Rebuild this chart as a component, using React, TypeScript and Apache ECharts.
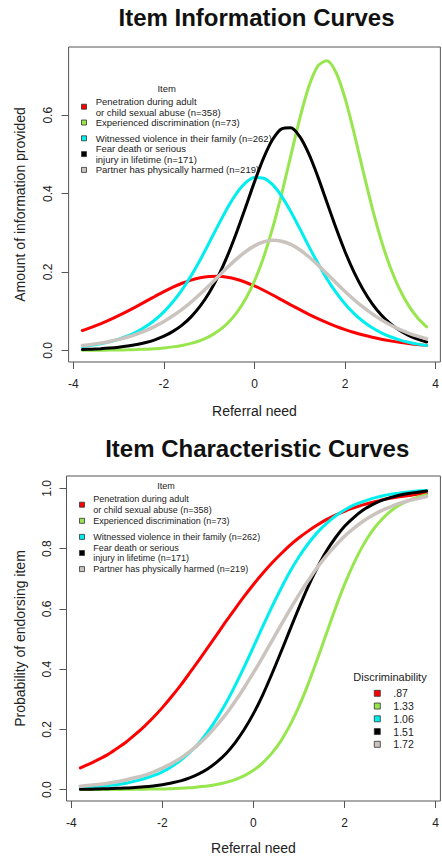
import React, { useEffect, useRef } from "react";
import * as echarts from "echarts";

// ---- data ----
const theta = [
  -3.8, -3.6, -3.4, -3.2, -3.0, -2.8, -2.6, -2.4, -2.2, -2.0, -1.8, -1.6, -1.4,
  -1.2, -1.0, -0.8, -0.6, -0.4, -0.2, 0.0, 0.2, 0.4, 0.6, 0.8, 1.0, 1.2, 1.4,
  1.6, 1.8, 2.0, 2.2, 2.4, 2.6, 2.8, 3.0, 3.2, 3.4, 3.6, 3.8,
];

const infoRed = [0.0509, 0.0589, 0.0679, 0.0778, 0.0887, 0.1003, 0.1125, 0.1251, 0.1377, 0.15, 0.1614, 0.1714, 0.1795, 0.1854, 0.1886, 0.1891, 0.1866, 0.1815, 0.174, 0.1645, 0.1535, 0.1415, 0.1289, 0.1163, 0.1039, 0.0921, 0.081, 0.0708, 0.0615, 0.0532, 0.0458, 0.0393, 0.0336, 0.0286, 0.0244, 0.0207, 0.0176, 0.0148, 0.0126];
const infoGreen = [0.0003, 0.0004, 0.0006, 0.0008, 0.0012, 0.0016, 0.0023, 0.0033, 0.0046, 0.0065, 0.0091, 0.0128, 0.018, 0.0252, 0.0353, 0.0494, 0.0687, 0.095, 0.1304, 0.1772, 0.2373, 0.3118, 0.3996, 0.4959, 0.5915, 0.6731, 0.7258, 0.7387, 0.7089, 0.643, 0.554, 0.4567, 0.363, 0.2802, 0.2115, 0.1569, 0.115, 0.0835, 0.0602];
const infoCyan = [0.01, 0.0131, 0.017, 0.022, 0.0285, 0.0368, 0.0474, 0.0608, 0.0776, 0.0985, 0.124, 0.1546, 0.1903, 0.2307, 0.2746, 0.3197, 0.3629, 0.4001, 0.4273, 0.441, 0.4394, 0.4228, 0.3932, 0.3545, 0.3106, 0.2655, 0.2222, 0.1826, 0.1479, 0.1184, 0.0939, 0.0739, 0.0578, 0.045, 0.0349, 0.027, 0.0209, 0.0161, 0.0124];
const infoBlack = [0.0025, 0.0033, 0.0045, 0.0061, 0.0082, 0.0111, 0.015, 0.0201, 0.0271, 0.0363, 0.0486, 0.0647, 0.0857, 0.1128, 0.1471, 0.1896, 0.2407, 0.2997, 0.3642, 0.43, 0.4905, 0.538, 0.5654, 0.5679, 0.5453, 0.5012, 0.4427, 0.3774, 0.3121, 0.2518, 0.1991, 0.1549, 0.119, 0.0906, 0.0684, 0.0514, 0.0385, 0.0287, 0.0214];
const infoGray = [0.0124, 0.0153, 0.0187, 0.023, 0.0281, 0.0343, 0.0418, 0.0508, 0.0614, 0.0738, 0.0883, 0.1048, 0.1234, 0.1439, 0.1659, 0.1887, 0.2114, 0.2328, 0.2518, 0.2668, 0.2768, 0.2808, 0.2786, 0.2704, 0.2568, 0.2389, 0.218, 0.1956, 0.1727, 0.1504, 0.1294, 0.1102, 0.0931, 0.078, 0.0649, 0.0538, 0.0444, 0.0364, 0.0299];

const iccRed = [0.072, 0.085, 0.1, 0.116, 0.136, 0.157, 0.182, 0.209, 0.239, 0.272, 0.308, 0.346, 0.387, 0.429, 0.472, 0.515, 0.559, 0.601, 0.642, 0.681, 0.717, 0.751, 0.782, 0.811, 0.836, 0.858, 0.878, 0.896, 0.911, 0.924, 0.935, 0.945, 0.953, 0.961, 0.967, 0.972, 0.976, 0.98, 0.983];
const iccGreen = [0.0, 0.0, 0.0, 0.0, 0.0, 0.001, 0.001, 0.001, 0.002, 0.002, 0.003, 0.004, 0.006, 0.009, 0.012, 0.017, 0.024, 0.033, 0.046, 0.064, 0.088, 0.12, 0.161, 0.213, 0.276, 0.35, 0.432, 0.517, 0.602, 0.681, 0.75, 0.809, 0.857, 0.894, 0.923, 0.944, 0.959, 0.971, 0.979];
const iccCyan = [0.006, 0.007, 0.01, 0.013, 0.016, 0.021, 0.028, 0.036, 0.046, 0.059, 0.076, 0.097, 0.123, 0.154, 0.192, 0.237, 0.288, 0.346, 0.408, 0.474, 0.54, 0.605, 0.666, 0.723, 0.773, 0.816, 0.853, 0.883, 0.908, 0.928, 0.944, 0.956, 0.966, 0.974, 0.98, 0.984, 0.988, 0.991, 0.993];
const iccBlack = [0.001, 0.001, 0.002, 0.003, 0.004, 0.005, 0.007, 0.009, 0.012, 0.016, 0.022, 0.029, 0.039, 0.052, 0.069, 0.092, 0.12, 0.156, 0.2, 0.252, 0.313, 0.382, 0.455, 0.53, 0.604, 0.674, 0.736, 0.791, 0.836, 0.874, 0.903, 0.927, 0.945, 0.959, 0.969, 0.977, 0.983, 0.987, 0.991];
const iccGray = [0.011, 0.014, 0.017, 0.021, 0.026, 0.032, 0.039, 0.047, 0.058, 0.071, 0.086, 0.104, 0.126, 0.151, 0.18, 0.214, 0.251, 0.293, 0.339, 0.388, 0.439, 0.492, 0.545, 0.597, 0.647, 0.693, 0.737, 0.776, 0.81, 0.841, 0.867, 0.89, 0.909, 0.925, 0.938, 0.95, 0.959, 0.966, 0.973];

const itemNames = [
  "Penetration during adult\nor child sexual abuse (n=358)",
  "Experienced discrimination (n=73)",
  "Witnessed violence in their family (n=262)",
  "Fear death or serious\ninjury in lifetime (n=171)",
  "Partner has physically harmed (n=219)",
];
const discrimLabels = [".87", "1.33", "1.06", "1.51", "1.72"];
const xTicks = [-4, -2, 0, 2, 4];
const infoYTicks = [0, 0.2, 0.4, 0.6];
const iccYTicks = [0, 0.2, 0.4, 0.6, 0.8, 1.0];

const colors = ["#FF0000", "#97E64E", "#00EEEE", "#000000", "#CBC4BE"];

const infoSets = [infoRed, infoGreen, infoCyan, infoBlack, infoGray];
const iccSets = [iccRed, iccGreen, iccCyan, iccBlack, iccGray];

const FONT = '"Liberation Sans", Arial, Helvetica, sans-serif';
const AXIS_COLOR = "#555";

function xAxisFor(gridIndex: number, nameGap: number) {
  return {
    gridIndex,
    type: "value",
    min: -4.104,
    max: 4.104,
    axisLine: { show: false, onZero: false },
    splitLine: { show: false },
    axisTick: {
      show: true,
      customValues: xTicks,
      length: 7,
      lineStyle: { color: AXIS_COLOR, width: 1 },
    },
    axisLabel: {
      customValues: xTicks,
      margin: 16,
      fontSize: 12,
      color: "#222",
      fontFamily: FONT,
      formatter: (v: number) => String(v),
    },
    name: "Referral need",
    nameLocation: "middle",
    nameGap,
    nameTextStyle: { fontSize: 14, color: "#222", fontFamily: FONT },
  };
}

function yAxisFor(
  gridIndex: number,
  min: number,
  max: number,
  ticks: number[],
  name: string,
  nameGap: number,
  margin: number
) {
  return {
    gridIndex,
    type: "value",
    min,
    max,
    axisLine: { show: false, onZero: false },
    splitLine: { show: false },
    axisTick: {
      show: true,
      customValues: ticks,
      length: 7,
      lineStyle: { color: AXIS_COLOR, width: 1 },
    },
    axisLabel: {
      customValues: ticks,
      rotate: 90,
      margin,
      fontSize: 12,
      color: "#222",
      fontFamily: FONT,
      formatter: (v: number) => v.toFixed(1),
    },
    name,
    nameLocation: "middle",
    nameGap,
    nameTextStyle: { fontSize: 14, color: "#222", fontFamily: FONT },
  };
}

function legendGraphics(
  titleX: number,
  titleY: number,
  sqX: number,
  textX: number,
  startY: number,
  step: number,
  fontSize: number
) {
  const els: any[] = [
    {
      type: "text",
      x: titleX,
      y: titleY,
      style: {
        text: "Item",
        fill: "#222",
        fontSize,
        fontFamily: FONT,
        align: "center",
        verticalAlign: "middle",
        textAlign: "center",
        textVerticalAlign: "middle",
      },
    },
  ];
  itemNames.forEach((nm, i) => {
    const cy = startY + i * step;
    els.push({
      type: "rect",
      shape: { x: sqX - 2.5, y: cy - 2.5, width: 5, height: 5 },
      style: { fill: colors[i], stroke: "#333", lineWidth: 0.8 },
    });
    els.push({
      type: "text",
      x: textX,
      y: cy,
      style: {
        text: nm,
        fill: "#222",
        fontSize,
        fontFamily: FONT,
        lineHeight: 10.7,
        align: "left",
        verticalAlign: "middle",
        textAlign: "left",
        textVerticalAlign: "middle",
      },
    });
  });
  return els;
}

function discrimGraphics() {
  const els: any[] = [
    {
      type: "text",
      x: 390,
      y: 677.3,
      style: {
        text: "Discriminability",
        fill: "#222",
        fontSize: 11,
        fontFamily: FONT,
        align: "center",
        verticalAlign: "middle",
        textAlign: "center",
        textVerticalAlign: "middle",
      },
    },
  ];
  discrimLabels.forEach((lb, i) => {
    const cy = 693.3 + i * 12.75;
    els.push({
      type: "rect",
      shape: { x: 377.3 - 3, y: cy - 3, width: 6, height: 6 },
      style: { fill: colors[i], stroke: "#333", lineWidth: 0.8 },
    });
    els.push({
      type: "text",
      x: 393.3,
      y: cy,
      style: {
        text: lb,
        fill: "#222",
        fontSize: 10.5,
        fontFamily: FONT,
        align: "left",
        verticalAlign: "middle",
        textAlign: "left",
        textVerticalAlign: "middle",
      },
    });
  });
  return els;
}

function titleGraphic(text: string, x: number, y: number) {
  return {
    type: "text",
    x,
    y,
    style: {
      text,
      fill: "#111",
      fontSize: 24,
      fontWeight: "bold",
      fontFamily: FONT,
      align: "center",
      verticalAlign: "middle",
      textAlign: "center",
      textVerticalAlign: "middle",
    },
  };
}

export default function App() {
  const ref = useRef<HTMLDivElement>(null);

  useEffect(() => {
    if (!ref.current) return;
    const chart = echarts.init(ref.current, null, { renderer: "svg" });

    const makeSeries = (sets: number[][], idx: number) =>
      sets.map((vals, i) => ({
        type: "line",
        xAxisIndex: idx,
        yAxisIndex: idx,
        data: theta.map((t, j) => [t, vals[j]]),
        showSymbol: false,
        symbol: "none",
        smooth: 0.3,
        silent: true,
        lineStyle: { color: colors[i], width: i === 4 ? 3.5 : 3, cap: "round" },
        itemStyle: { color: colors[i] },
        z: 2 + i,
      }));

    const option: any = {
      animation: false,
      backgroundColor: "#fff",
      textStyle: { fontFamily: FONT },
      grid: [
        {
          left: 68.6,
          top: 47,
          width: 376.2,
          height: 315,
          show: true,
          borderColor: AXIS_COLOR,
          borderWidth: 1,
          backgroundColor: "transparent",
          containLabel: false,
        },
        {
          left: 66.5,
          top: 476,
          width: 382.5,
          height: 325,
          show: true,
          borderColor: AXIS_COLOR,
          borderWidth: 1,
          backgroundColor: "transparent",
          containLabel: false,
        },
      ],
      xAxis: [xAxisFor(0, 42), xAxisFor(1, 40)],
      yAxis: [
        yAxisFor(0, -0.0295, 0.774, infoYTicks, "Amount of information provided", 42, 15),
        yAxisFor(1, -0.038, 1.041, iccYTicks, "Probability of endorsing item", 40, 14),
      ],
      series: [...makeSeries(infoSets, 0), ...makeSeries(iccSets, 1)],
      graphic: [
        titleGraphic("Item Information Curves", 256.5, 17.5),
        titleGraphic("Item Characteristic Curves", 257.2, 448.3),
        ...legendGraphics(166.7, 88.3, 84, 95.7, 106.7, 15.8, 9.5),
        ...legendGraphics(166, 485.7, 82, 93.3, 504.7, 16.1, 9),
        ...discrimGraphics(),
      ],
    };

    chart.setOption(option);
    return () => chart.dispose();
  }, []);

  return (
    <div
      ref={ref}
      style={{
        position: "absolute",
        left: 0,
        top: 0,
        width: 442,
        height: 858,
        background: "#fff",
      }}
    />
  );
}
